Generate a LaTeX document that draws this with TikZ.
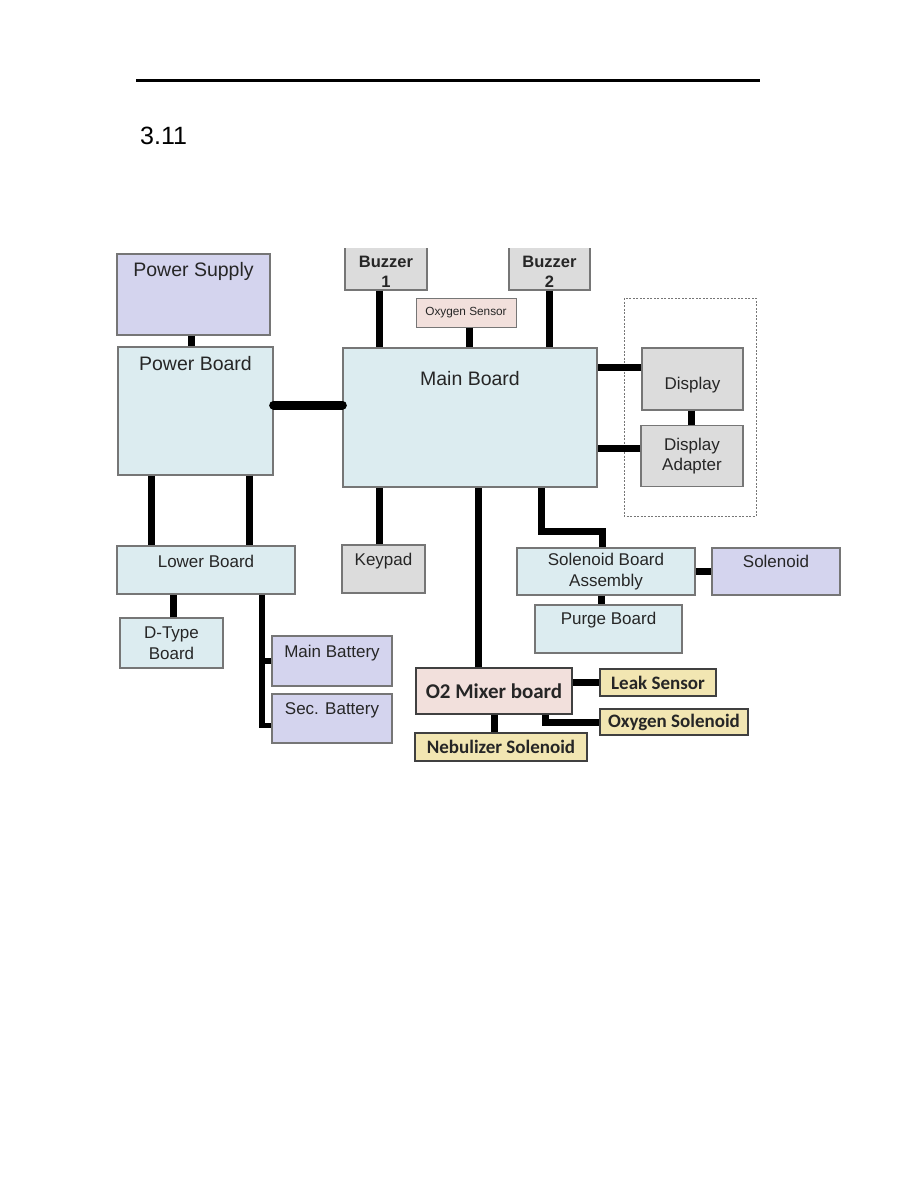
\documentclass[tikz,border=0pt]{standalone}
\usepackage{fontspec}
\setmainfont{Liberation Sans}
\newfontfamily\calibri{Carlito}
\definecolor{BoxLine}{RGB}{118,118,118}
\definecolor{PsuClr}{RGB}{212,212,238}
\definecolor{BoardClr}{RGB}{220,236,240}
\definecolor{GreyClr}{RGB}{220,220,220}
\definecolor{PinkClr}{RGB}{242,224,220}
\definecolor{YellowClr}{RGB}{242,230,178}

\begin{document}
\begin{tikzpicture}[x=1pt,y=-1pt,
  blk/.style={rectangle,draw=BoxLine,line width=1.3pt,inner sep=0pt,text=black!85,
    font=\fontsize{17}{20.5}\selectfont,align=center},
  lbl/.style={anchor=north,inner sep=0pt,text=black!85,align=center,font=\fontsize{17}{20.5}\selectfont},
  lblbig/.style={lbl,font=\fontsize{19.5}{23}\selectfont},
  buzz/.style={lbl,font=\bfseries\fontsize{16.5}{20}\selectfont},
  cal/.style={draw=black!75,font=\calibri\bfseries\fontsize{19}{22}\selectfont},
  wire/.style={line width=7pt,black}]
\useasboundingbox (0,0) rectangle (918,1188);

\draw[line width=3pt] (136,81) -- (760,81);
\node[anchor=west,inner sep=0pt,font=\fontsize{25}{28}\selectfont] (sec) at (140,136) {3.11};

\begin{scope}
\clip (0,248) rectangle (918,1188);

\draw[BoxLine,line width=1pt,dash pattern=on 2pt off 1.5pt] (624,298) rectangle (756,516);

\node[blk,fill=PsuClr,minimum width=153pt,minimum height=81pt,
  label={[lblbig,yshift=-8.5pt]north:Power Supply}] (psu) at (193.5,294.5) {};
\node[blk,fill=BoardClr,minimum width=155pt,minimum height=128pt,
  label={[lblbig,yshift=-9.5pt]north:Power Board}] (pwr) at (195.5,411) {};
\node[blk,fill=BoardClr,minimum width=254pt,minimum height=139pt,
  label={[lblbig,yshift=-23.5pt]north:Main Board}] (main) at (470,417.5) {};
\node[blk,fill=GreyClr,minimum width=82pt,minimum height=46pt,
  label={[buzz,yshift=-12.5pt]north:Buzzer\\1}] (bza) at (386,267) {};
\node[blk,fill=GreyClr,minimum width=81pt,minimum height=46pt,
  label={[buzz,yshift=-12.5pt]north:Buzzer\\2}] (bzb) at (549.5,267) {};
\node[blk,fill=PinkClr,line width=1pt,minimum width=100pt,minimum height=29pt,
  font=\fontsize{11.8}{13}\selectfont] (oxs) at (466,312.5) {Oxygen Sensor};
\node[blk,fill=GreyClr,minimum width=101pt,minimum height=62pt,
  label={[lbl,yshift=-29.5pt]north:Display}] (disp) at (692.5,379) {};
\node[blk,fill=GreyClr,minimum width=102pt,minimum height=61pt] (adpt) at (692,456) {Display\\Adapter};
\node[blk,fill=BoardClr,minimum width=178pt,minimum height=48pt,
  label={[lbl,yshift=-10pt]north:Lower Board}] (lower) at (206,570) {};
\node[blk,fill=GreyClr,minimum width=83pt,minimum height=48pt,
  label={[lbl,yshift=-9pt]north:Keypad}] (keys) at (383.5,569) {};
\node[blk,fill=BoardClr,minimum width=103pt,minimum height=50pt] (dtype) at (171.5,643) {D-Type\\Board};
\node[blk,fill=PsuClr,minimum width=120pt,minimum height=50pt,
  label={[lbl,yshift=-10pt]north:Main Battery}] (bata) at (332,661) {};
\node[blk,fill=PsuClr,minimum width=120pt,minimum height=49pt,
  label={[lbl,yshift=-9pt]north:Sec. Battery}] (batb) at (332,718.5) {};
\node[blk,fill=BoardClr,minimum width=178pt,minimum height=47pt] (sba) at (606,571.5) {Solenoid Board\\Assembly};
\node[blk,fill=PsuClr,minimum width=128pt,minimum height=47pt,
  label={[lbl,yshift=-8pt]north:Solenoid}] (sol) at (776,571.5) {};
\node[blk,fill=BoardClr,minimum width=147pt,minimum height=48pt,
  label={[lbl,yshift=-8pt]north:Purge Board}] (purge) at (608.5,629) {};
\node[blk,cal,fill=PinkClr,minimum width=156pt,minimum height=46pt,
  font=\calibri\bfseries\fontsize{21}{24}\selectfont] (mixer) at (494,691) {O2 Mixer board};
\node[blk,cal,fill=YellowClr,minimum width=116pt,minimum height=27pt] (leak) at (658,682.5) {Leak Sensor};
\node[blk,cal,fill=YellowClr,minimum width=148pt,minimum height=26pt] (oxsol) at (674,722) {Oxygen Solenoid};
\node[blk,cal,fill=YellowClr,minimum width=172pt,minimum height=28pt] (neb) at (501,747) {Nebulizer Solenoid};

\draw[wire] ([xshift=-2.5pt]psu.south) -- ([xshift=-2.5pt]psu.south |- pwr.north);
\draw[wire,line width=9pt,line cap=round] ([yshift=6pt]pwr.east) -- ([yshift=6pt]pwr.east -| main.west);
\draw[wire] ([xshift=-7pt]bza.south) -- ([xshift=-7pt]bza.south |- main.north);
\draw[wire] ([xshift=3pt]oxs.south) -- ([xshift=3pt]oxs.south |- main.north);
\draw[wire] (bzb.south) -- (bzb.south |- main.north);
\draw[wire] ([yshift=12pt]disp.west) -- ([yshift=12pt]disp.west -| main.east);
\draw[wire] ([yshift=8pt]adpt.west) -- ([yshift=8pt]adpt.west -| main.east);
\draw[wire] ([xshift=-1.5pt]disp.south) -- ([xshift=-1.5pt]disp.south |- adpt.north);
\draw[wire] ([xshift=-44.5pt]pwr.south) -- ([xshift=-44.5pt]pwr.south |- lower.north);
\draw[wire] ([xshift=53.5pt]pwr.south) -- ([xshift=53.5pt]pwr.south |- lower.north);
\draw[wire] ([xshift=-4.5pt]keys.north) -- ([xshift=-4.5pt]keys.north |- main.south);
\draw[wire] ([xshift=-16pt]mixer.north) -- ([xshift=-16pt]mixer.north |- main.south);
\draw[wire] ([xshift=71pt]main.south) -- ++(0,44) -| ([xshift=-4pt]sba.north);
\draw[wire] (sba.east) -- (sol.west);
\draw[wire] ([xshift=-5pt]sba.south) -- ([xshift=-5pt]sba.south |- purge.north);
\draw[wire] ([xshift=1.5pt]dtype.north) -- ([xshift=1.5pt]dtype.north |- lower.south);
\draw[wire,line width=5.5pt] ([xshift=56pt]lower.south) |- ([yshift=-7pt]batb.west);
\draw[wire,line width=5.5pt] (bata.west) -- ++(-10,0);
\draw[wire] (leak.west) -- (leak.west -| mixer.east);
\draw[wire] ([xshift=51pt]mixer.south) |- (oxsol.west);
\draw[wire] (mixer.south) -- (mixer.south |- neb.north);
\end{scope}
\end{tikzpicture}
\end{document}
